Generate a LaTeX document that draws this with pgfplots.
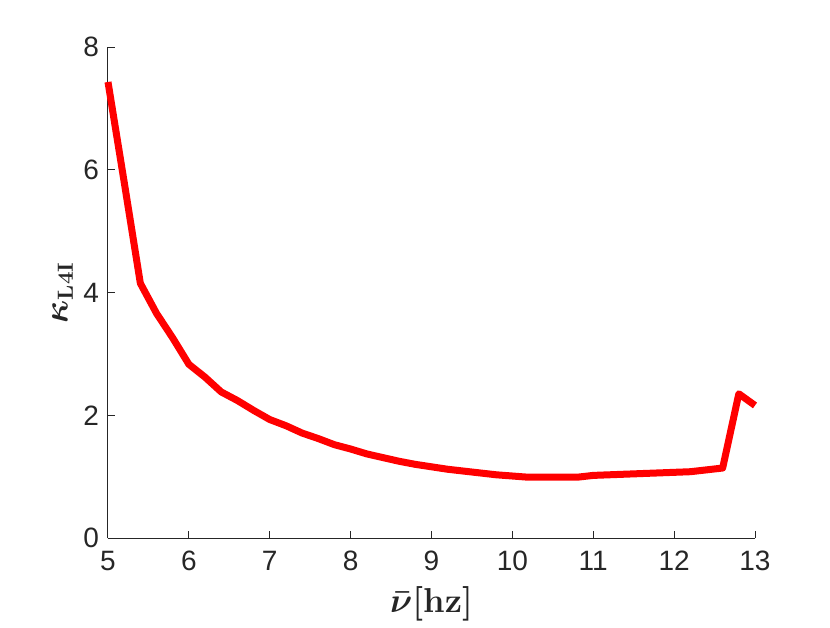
\documentclass[border=0pt]{standalone}
\usepackage{amsmath}
\usepackage{bm}
\usepackage[no-math]{fontspec}
\setmainfont{Liberation Sans}
\usepackage{pgfplots}
\pgfplotsset{compat=1.18}
\definecolor{axgray}{RGB}{38,38,38}
\begin{document}
\begin{tikzpicture}
  \begin{axis}[
      scale only axis,
      width=323.5pt, height=245.5pt,
      xmin=5, xmax=13, ymin=0, ymax=8,
      xtick={5,6,...,13}, ytick={0,2,4,6,8},
      axis lines*=left,
      axis line style={axgray, line width=0.5pt},
      tick style={axgray, line width=0.5pt},
      tick align=inside,
      major tick length=3.5pt,
      tick label style={font=\fontsize{14}{16}\selectfont, text=axgray},
      /pgf/number format/assume math mode=true,
      xticklabel style={yshift=-3pt},
      yticklabel style={xshift=-1pt},
      xlabel={$\bm{\bar{\nu}}\bm{[}\mathbf{hz}\bm{]}$},
      ylabel={$\bm{\kappa}_{\mathbf{L4I}}$},
      label style={font=\fontsize{16}{18}\selectfont, text=axgray},
      xlabel style={at={(0.5,0)}, yshift=-33pt, anchor=center},
      ylabel style={at={(0,0.5)}, yshift=14pt},
      clip=false,
    ]
    \addplot[red, line width=3.5pt, line join=round] coordinates {
      (5.0,7.43) (5.2,5.80) (5.4,4.15) (5.6,3.66) (5.8,3.26) (6.0,2.83)
      (6.2,2.62) (6.4,2.38) (6.6,2.24) (6.8,2.08) (7.0,1.93) (7.2,1.83)
      (7.4,1.71) (7.6,1.62) (7.8,1.52) (8.0,1.45) (8.2,1.37) (8.4,1.31)
      (8.6,1.25) (8.8,1.20) (9.0,1.16) (9.2,1.12) (9.4,1.09) (9.6,1.06)
      (9.8,1.03) (10.0,1.01) (10.2,0.99) (10.4,0.99) (10.6,0.99) (10.8,0.99)
      (11.0,1.02) (11.2,1.03) (11.4,1.04) (11.6,1.05) (11.8,1.06) (12.0,1.07)
      (12.2,1.08) (12.4,1.11) (12.6,1.14) (12.8,2.35) (13.0,2.16)
    };
  \end{axis}
  \path (current axis.south west) ++(-54pt,-42.5pt) rectangle ++(415pt,311.5pt);
\end{tikzpicture}
\end{document}
